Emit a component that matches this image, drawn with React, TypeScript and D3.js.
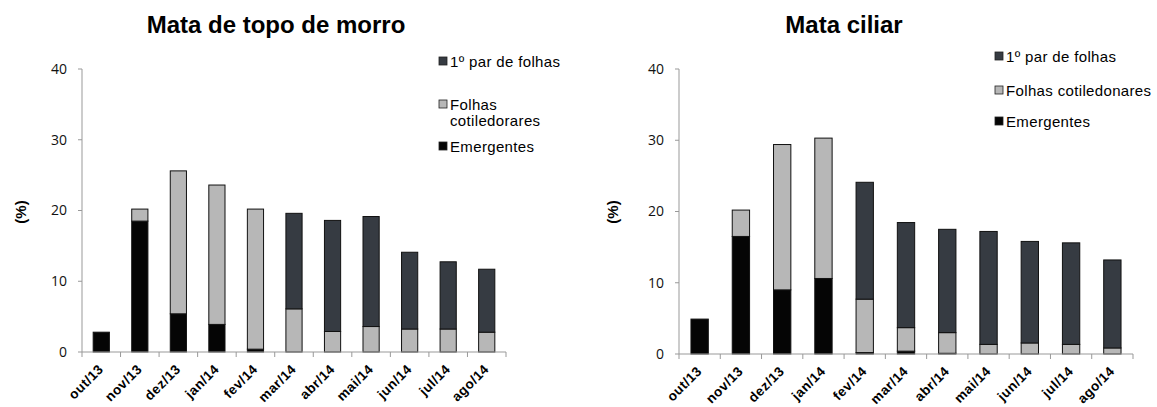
import * as React from "react"
import * as d3 from "d3"

const months = ["out/13", "nov/13", "dez/13", "jan/14", "fev/14", "mar/14", "abr/14", "mai/14", "jun/14", "jul/14", "ago/14"]
const yTicks = [0, 10, 20, 30, 40]

// Mata de topo de morro
const topoEmergentes = [2.8, 18.5, 5.4, 3.9, 0.4, 0, 0, 0, 0, 0, 0]
const topoCotiledonares = [0, 1.7, 20.2, 19.7, 19.8, 6.1, 2.9, 3.6, 3.25, 3.25, 2.8]
const topoPrimeiroPar = [0, 0, 0, 0, 0, 13.5, 15.7, 15.55, 10.85, 9.5, 8.9]

// Mata ciliar
const ciliarEmergentes = [4.9, 16.5, 9.0, 10.6, 0.2, 0.4, 0.1, 0, 0, 0, 0]
const ciliarCotiledonares = [0, 3.7, 20.4, 19.7, 7.5, 3.3, 2.9, 1.35, 1.55, 1.35, 0.85]
const ciliarPrimeiroPar = [0, 0, 0, 0, 16.4, 14.75, 14.5, 15.85, 14.25, 14.25, 12.35]

const keys = ["emerg", "cotil", "par"]
const colors: Record<string, string> = { emerg: "#050505", cotil: "#b7b7b7", par: "#363b42" }

const topoLegend = [
    { key: "par", lines: ["1º par de folhas"] },
    { key: "cotil", lines: ["Folhas", "cotiledorares"] },
    { key: "emerg", lines: ["Emergentes"] },
]
const ciliarLegend = [
    { key: "par", lines: ["1º par de folhas"] },
    { key: "cotil", lines: ["Folhas cotiledonares"] },
    { key: "emerg", lines: ["Emergentes"] },
]

interface ChartProps {
    title: string
    titleX: number
    emerg: number[]
    cotil: number[]
    par: number[]
    box: { left: number, right: number, top: number, bottom: number }
    legend: { key: string, lines: string[] }[]
    legendX: number
    legendY: number[]
    lineGap: number
    ylabelX: number
}

const Chart = ({ title, titleX, emerg, cotil, par, box, legend, legendX, legendY, lineGap, ylabelX }: ChartProps) => {
    const rows = months.map((m, i) => ({ m, emerg: emerg[i], cotil: cotil[i], par: par[i] }))
    const series = d3.stack<any>().keys(keys)(rows)

    const x = d3.scaleBand().domain(months).range([box.left, box.right]).paddingInner(0.58).paddingOuter(0.29)
    const xb = d3.scaleBand().domain(months).range([box.left, box.right])
    const y = d3.scaleLinear().domain([0, 40]).range([box.bottom, box.top])

    return (
        <g>
            <text x={titleX} y={33} textAnchor="middle" fontFamily="Liberation Sans, Arial" fontWeight="bold" fontSize={24}>{title}</text>
            <text transform={`translate(${ylabelX},212) rotate(-90)`} textAnchor="middle" fontFamily="Liberation Sans, Arial" fontWeight="bold" fontSize={15}>(%)</text>

            {yTicks.map(t => (
                <g key={t}>
                    <line x1={box.left - 4} x2={box.left} y1={y(t)} y2={y(t)} stroke="#999" />
                    <text x={box.left - 15} y={y(t)} dy="0.35em" textAnchor="end" fontFamily="Open Sans, sans-serif" fontSize={14} fill="#111">{t}</text>
                </g>
            ))}
            <line x1={box.left} x2={box.left} y1={box.top} y2={box.bottom} stroke="#999" />

            {series.map(s => (
                <g key={s.key} fill={colors[s.key]} stroke="#111" strokeWidth={1}>
                    {s.map((d, i) => d[1] - d[0] > 0 ? (
                        <rect key={i} x={x(months[i])} width={x.bandwidth()} y={y(d[1])} height={y(d[0]) - y(d[1])} />
                    ) : null)}
                </g>
            ))}

            <line x1={box.left} x2={box.right} y1={box.bottom} y2={box.bottom} stroke="#999" />
            {[...months.map(m => xb(m)!), box.right].map((px, i) => (
                <line key={i} x1={px} x2={px} y1={box.bottom} y2={box.bottom + 5} stroke="#999" />
            ))}
            {months.map(m => {
                const cx = xb(m)! + xb.bandwidth() / 2 + 3
                return (
                    <text key={m} transform={`translate(${cx},${box.bottom + 18}) rotate(-45)`} textAnchor="end"
                        fontFamily="Liberation Sans, Arial" fontWeight="bold" fontSize={13.5} letterSpacing={0.5}>{m}</text>
                )
            })}

            {legend.map((l, i) => (
                <g key={l.key}>
                    <rect x={legendX} y={legendY[i] - 10} width={8} height={8} fill={colors[l.key]} stroke="#222" strokeWidth={0.8} />
                    {l.lines.map((ln, j) => (
                        <text key={j} x={legendX + 11} y={legendY[i] + j * lineGap} fontFamily="Liberation Sans, Arial" fontSize={15} letterSpacing={0.35}>{ln}</text>
                    ))}
                </g>
            ))}
        </g>
    )
}

export default function App() {
    return (
        <svg width={1157} height={407} style={{ position: "absolute", left: 0, top: 0, background: "#fff" }}>
            <Chart title="Mata de topo de morro" titleX={276} emerg={topoEmergentes} cotil={topoCotiledonares} par={topoPrimeiroPar}
                box={{ left: 82, right: 506, top: 69, bottom: 352 }} legend={topoLegend} legendX={439} legendY={[67, 110, 152]} lineGap={16} ylabelX={26} />
            <Chart title="Mata ciliar" titleX={844} emerg={ciliarEmergentes} cotil={ciliarCotiledonares} par={ciliarPrimeiroPar}
                box={{ left: 679, right: 1133, top: 69, bottom: 354 }} legend={ciliarLegend} legendX={995} legendY={[62, 96, 127]} lineGap={16} ylabelX={618} />
        </svg>
    )
}
